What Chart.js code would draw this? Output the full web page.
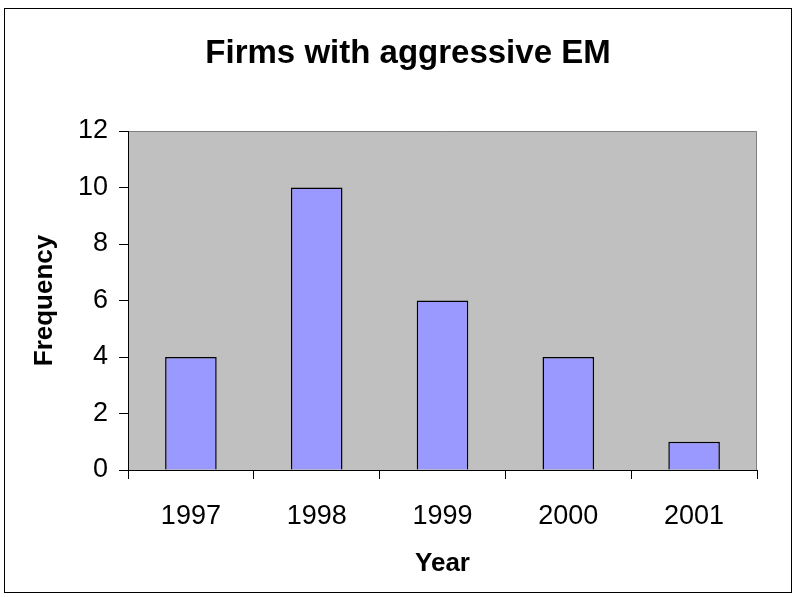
<!DOCTYPE html>
<html>
<head>
<meta charset="utf-8">
<title>Firms with aggressive EM</title>
<script src="https://cdn.jsdelivr.net/npm/chart.js@4.4.1/dist/chart.umd.min.js"></script>
<style>
  html, body { margin: 0; padding: 0; background: #fff; }
  #wrap { width: 795px; height: 597px; }
</style>
</head>
<body>
<div id="wrap"><canvas id="emChart" width="795" height="597"></canvas></div>
<script>
const years = ['1997', '1998', '1999', '2000', '2001'];
const frequency = [4, 10, 6, 4, 1];
const chartTitle = 'Firms with aggressive EM';
const xTitle = 'Year';
const yTitle = 'Frequency';

const FONT = "'Liberation Sans', Arial, sans-serif";

// gray plot area, outer frame and the heading
const frame = {
    id: 'frame',
    beforeDraw(chart) {
        const { ctx, chartArea: a } = chart;
        ctx.save();
        ctx.fillStyle = '#fff';
        ctx.fillRect(0, 0, chart.width, chart.height);
        ctx.fillStyle = '#C0C0C0';
        ctx.fillRect(a.left, a.top, a.right - a.left, a.bottom - a.top);
        ctx.strokeStyle = '#808080';
        ctx.lineWidth = 1;
        ctx.beginPath();
        ctx.moveTo(a.left, a.top + 0.5);
        ctx.lineTo(a.right - 0.5, a.top + 0.5);
        ctx.lineTo(a.right - 0.5, a.bottom);
        ctx.stroke();
        ctx.restore();
    },
    afterDraw(chart) {
        const ctx = chart.ctx;
        ctx.save();
        ctx.strokeStyle = '#000';
        ctx.lineWidth = 1;
        ctx.strokeRect(4.5, 8.5, 787, 584);
        ctx.fillStyle = '#000';
        ctx.font = 'bold 33px ' + FONT;
        ctx.textAlign = 'center';
        ctx.textBaseline = 'middle';
        ctx.fillText(chartTitle, 408, 54);
        ctx.restore();
    }
};

const ctx = document.getElementById('emChart').getContext('2d');

new Chart(ctx, {
    type: 'bar',
    data: {
        labels: years,
        datasets: [{
            data: frequency,
            backgroundColor: '#9999FF',
            borderColor: '#000',
            borderWidth: 1.5,
            barPercentage: 0.41,
            categoryPercentage: 1
        }]
    },
    options: {
        responsive: false,
        animation: false,
        layout: { padding: { left: 4, right: 38, top: 131, bottom: 5 } },
        plugins: {
            legend: { display: false },
            tooltip: { enabled: false }
        },
        scales: {
            x: {
                afterFit: s => { s.height = 122; },
                grid: { offset: true, drawOnChartArea: false, drawTicks: true, tickLength: 9, color: '#000' },
                border: { display: true, color: '#000' },
                ticks: { color: '#000', padding: 21, font: { family: FONT, size: 27 } },
                title: {
                    display: true, text: xTitle, color: '#000',
                    font: { family: FONT, size: 26, weight: 'bold' },
                    padding: { top: 0, bottom: 13 }
                }
            },
            y: {
                min: 0,
                max: 12,
                afterFit: s => { s.width = 124; },
                grid: { drawOnChartArea: false, drawTicks: true, tickLength: 9, color: '#000' },
                border: { display: true, color: '#000' },
                ticks: { stepSize: 2, color: '#000', padding: 11, font: { family: FONT, size: 27 } },
                title: {
                    display: true, text: yTitle, color: '#000',
                    font: { family: FONT, size: 26, weight: 'bold' },
                    padding: { top: 25, bottom: 0 }
                }
            }
        }
    },
    plugins: [frame]
});
</script>
</body>
</html>
